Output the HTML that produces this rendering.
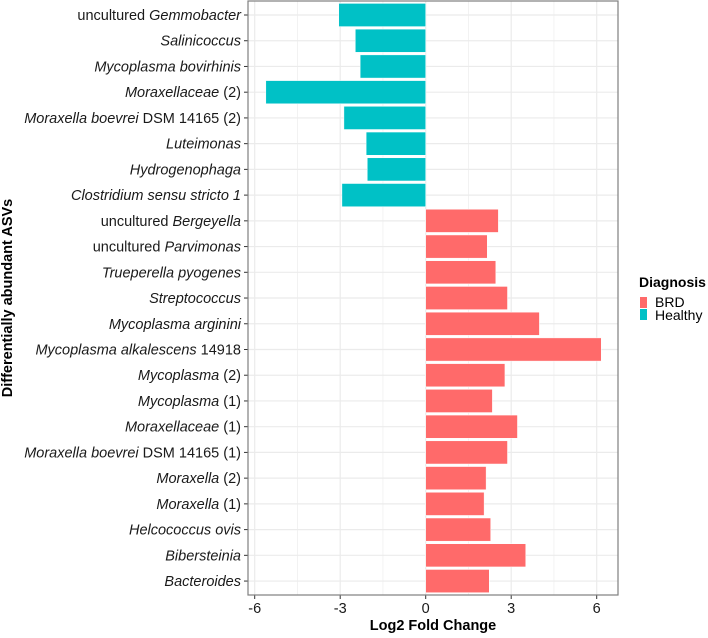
<!DOCTYPE html>
<html><head><meta charset="utf-8"><style>
body{margin:0;background:#fff;font-family:"Liberation Sans",Arial,sans-serif;}
svg text{font-family:"Liberation Sans",Arial,sans-serif;}
</style></head><body>
<svg id="chart" width="708" height="633" xmlns="http://www.w3.org/2000/svg">
<rect x="248" y="1" width="370" height="594" fill="#fff"/>
<g id="grid"></g><g id="bars"></g><g id="ylabels"></g><g id="xaxis"></g>
<rect x="248" y="1" width="370" height="594" fill="none" stroke="#7f7f7f" stroke-width="1.2"/>
<text x="433" y="630" font-size="14.5" font-weight="bold" text-anchor="middle">Log2 Fold Change</text>
<text transform="translate(12,298) rotate(-90)" font-size="14.5" font-weight="bold" text-anchor="middle">Differentially abundant ASVs</text>
<g>
<text x="639" y="287" font-size="14" font-weight="bold">Diagnosis</text>
<rect x="640" y="297" width="7" height="11" fill="#FF6A6A"/>
<text x="655" y="307" font-size="14">BRD</text>
<rect x="640" y="309" width="7" height="11" fill="#00C1C6"/>
<text x="655" y="320" font-size="14">Healthy</text>
</g>
</svg>
<script>
const categories=[
 ["uncultured ","Gemmobacter",""],["","Salinicoccus",""],["","Mycoplasma bovirhinis",""],["","Moraxellaceae"," (2)"],
 ["","Moraxella boevrei"," DSM 14165 (2)"],["","Luteimonas",""],["","Hydrogenophaga",""],["","Clostridium sensu stricto 1",""],
 ["uncultured ","Bergeyella",""],["uncultured ","Parvimonas",""],["","Trueperella pyogenes",""],["","Streptococcus",""],
 ["","Mycoplasma arginini",""],["","Mycoplasma alkalescens"," 14918"],["","Mycoplasma"," (2)"],["","Mycoplasma"," (1)"],
 ["","Moraxellaceae"," (1)"],["","Moraxella boevrei"," DSM 14165 (1)"],["","Moraxella"," (2)"],["","Moraxella"," (1)"],
 ["","Helcococcus ovis",""],["","Bibersteinia",""],["","Bacteroides",""]];
const values=[-3.05,-2.47,-2.3,-5.61,-2.87,-2.09,-2.05,-2.94,2.55,2.16,2.46,2.87,3.99,6.16,2.78,2.34,3.22,2.87,2.12,2.05,2.28,3.51,2.23];
const groups=["Healthy","Healthy","Healthy","Healthy","Healthy","Healthy","Healthy","Healthy","BRD","BRD","BRD","BRD","BRD","BRD","BRD","BRD","BRD","BRD","BRD","BRD","BRD","BRD","BRD"];
const xTicks=[-6,-3,0,3,6];
const xMinor=[-4.5,-1.5,1.5,4.5];
const NS="http://www.w3.org/2000/svg";
const x=v=>425.7+v*28.5;
const y=i=>15+i*25.73;
const colors={BRD:"#FF6A6A",Healthy:"#00C1C6"};
function mk(t,a,p){const e=document.createElementNS(NS,t);for(const k in a)e.setAttribute(k,a[k]);p.appendChild(e);return e;}
const grid=document.getElementById("grid"),bars=document.getElementById("bars"),yl=document.getElementById("ylabels"),xa=document.getElementById("xaxis");
xMinor.forEach(v=>{const l=mk("line",{x1:x(v),x2:x(v),y1:1,y2:595,stroke:"#f0f0f0","stroke-width":0.8},grid);

});
xTicks.forEach(v=>{const l=mk("line",{x1:x(v),x2:x(v),y1:1,y2:595,stroke:"#ebebeb","stroke-width":1.2},grid);


const t=mk("line",{x1:x(v),x2:x(v),y1:595,y2:599,stroke:"#333","stroke-width":1},xa);


const tx=mk("text",{x:x(v),y:613,"font-size":14.5,"text-anchor":"middle",fill:"#1a1a1a"},xa);
tx.textContent=v;

});
categories.forEach((c,i)=>{
 const g=mk("line",{x1:248,x2:618,y1:y(i),y2:y(i),stroke:"#ebebeb","stroke-width":1.2},grid);
 
 
 const v=values[i];
 const b=mk("rect",{x:Math.min(x(0),x(v)),y:y(i)-11.6,width:Math.abs(x(v)-x(0)),height:23.2,fill:colors[groups[i]],stroke:"#fff","stroke-width":0.5},bars);
 
 
 const tk=mk("line",{x1:244,x2:248,y1:y(i),y2:y(i),stroke:"#333","stroke-width":1},yl);
 
 
 const t=mk("text",{x:241,y:y(i)+5,"font-size":14.5,"text-anchor":"end",fill:"#1a1a1a"},yl);
 
 
 if(c[0]){const s=mk("tspan",{},t);s.textContent=c[0];}
 const s2=mk("tspan",{"font-style":"italic"},t);s2.textContent=c[1];
 if(c[2]){const s3=mk("tspan",{},t);s3.textContent=c[2];}
});
</script>
</body></html>
